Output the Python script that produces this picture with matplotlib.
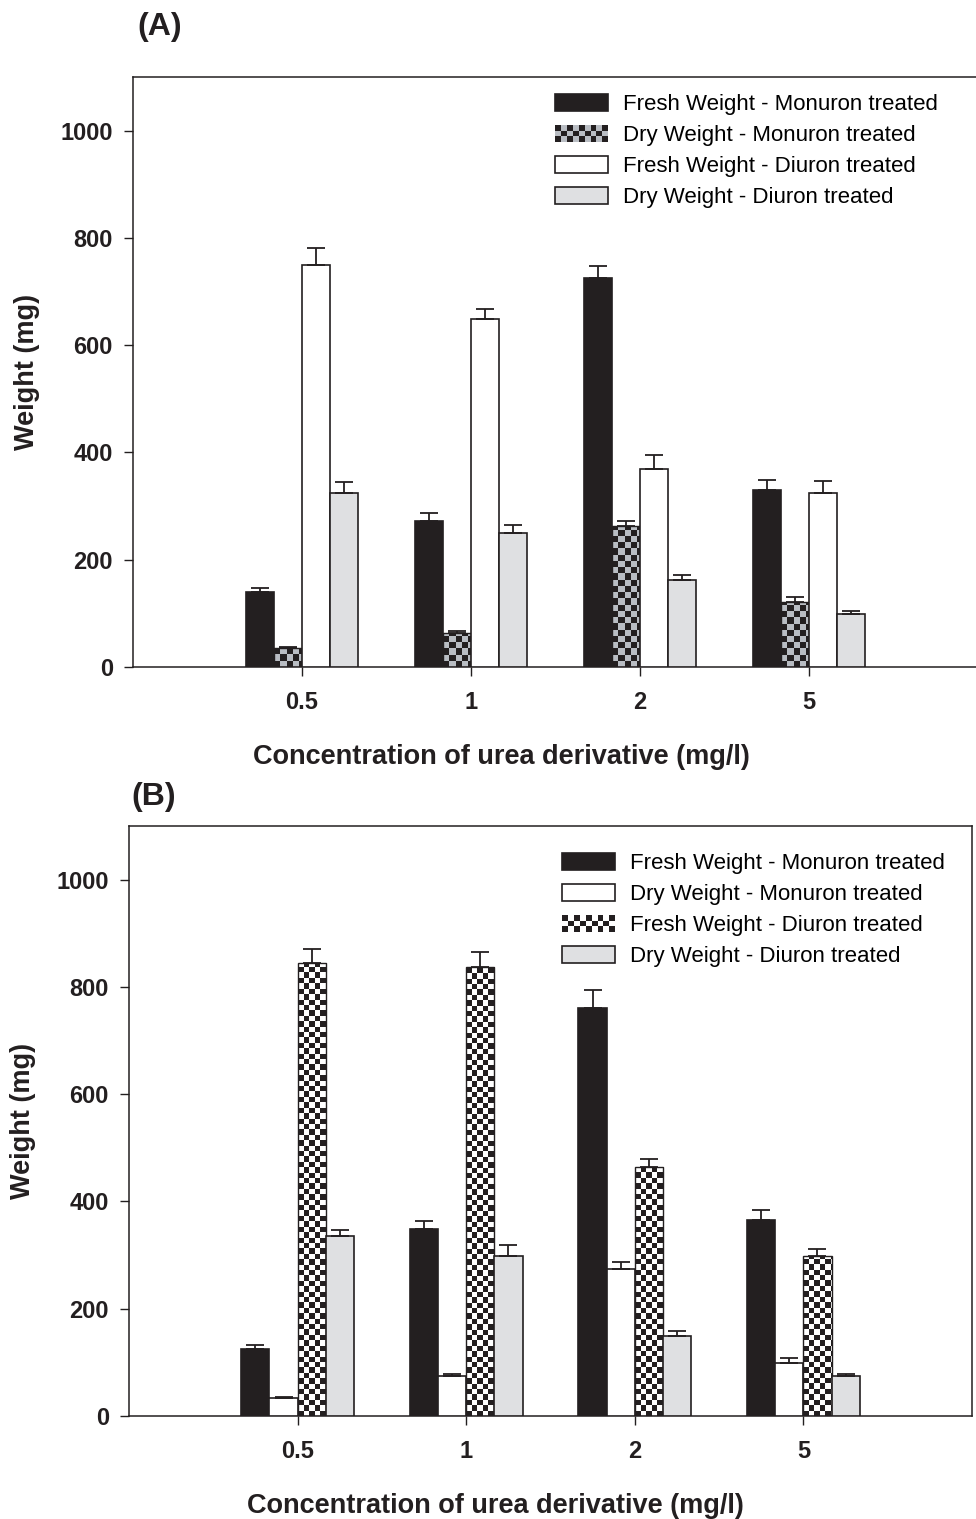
import numpy as np
import matplotlib
matplotlib.use("Agg")
import matplotlib.pyplot as plt
from matplotlib.patches import Patch, Rectangle
from matplotlib.colors import ListedColormap
from matplotlib.legend_handler import HandlerBase

plt.rcParams['font.family'] = ['Liberation Sans', 'DejaVu Sans']

# data (mg)
conc_labels = ['0.5', '1', '2', '5']
series_names_a = ['Fresh Weight - Monuron treated', 'Dry Weight - Monuron treated',
                  'Fresh Weight - Diuron treated', 'Dry Weight - Diuron treated']
series_names_b = ['Fresh Weight - Monuron treated', 'Dry Weight - Monuron treated',
                  'Fresh Weight - Diuron treated', 'Dry Weight - Diuron treated']

a_fresh_mon = [140, 273, 725, 330]
a_fresh_mon_err = [8, 15, 22, 18]
a_dry_mon = [35, 63, 263, 121]
a_dry_mon_err = [3, 4, 10, 10]
a_fresh_diu = [750, 649, 370, 325]
a_fresh_diu_err = [32, 19, 26, 21]
a_dry_diu = [325, 249, 162, 99]
a_dry_diu_err = [20, 16, 10, 5]

b_fresh_mon = [125, 349, 761, 366]
b_fresh_mon_err = [8, 15, 34, 18]
b_dry_mon = [33, 75, 275, 99]
b_dry_mon_err = [3, 3, 13, 10]
b_fresh_diu = [845, 837, 465, 299]
b_fresh_diu_err = [26, 29, 14, 13]
b_dry_diu = [336, 299, 149, 75]
b_dry_diu_err = [11, 19, 10, 3]

DARK = '#231f20'
LGRAY = '#dfe0e2'
CGRAY = '#b9bdc3'

W, H = 976, 1519
fig = plt.figure(figsize=(W / 100, H / 100), dpi=100)


class CheckerHandler(HandlerBase):
    def __init__(self, c1, c2, nx=9, ny=3):
        super().__init__()
        self.c1, self.c2, self.nx, self.ny = c1, c2, nx, ny

    def create_artists(self, legend, orig_handle, xdescent, ydescent,
                       width, height, fontsize, trans):
        arts = []
        sw = width / self.nx
        sh = height / self.ny
        for i in range(self.nx):
            for j in range(self.ny):
                c = self.c1 if (i + j) % 2 == 0 else self.c2
                arts.append(Rectangle((-xdescent + i * sw, -ydescent + j * sh), sw, sh,
                                      facecolor=c, edgecolor='none', transform=trans))
        return arts


def checker_bars(ax, xs, vals, w, c1, c2, sq_px, px_x, px_y):
    for x0, v in zip(xs, vals):
        bar = Rectangle((x0, 0), w, v, facecolor='none', edgecolor='none')
        ax.add_patch(bar)
        sx = sq_px / px_x
        sy = sq_px / px_y
        nx = int(np.ceil(w / sx)) + 1
        ny = int(np.ceil(v / sy)) + 1
        arr = np.indices((ny, nx)).sum(0) % 2
        im = ax.imshow(arr, cmap=ListedColormap([c1, c2]), origin='lower',
                       extent=[x0, x0 + nx * sx, 0, ny * sy],
                       interpolation='nearest', zorder=2, aspect='auto')
        im.set_clip_path(bar)


def panel(rect, title, title_xy, vals, errs, styles, names, leg_xy, sq_px, xlab_x):
    ax = fig.add_axes([rect[0] / W, 1 - rect[3] / H, (rect[2] - rect[0]) / W,
                       (rect[3] - rect[1]) / H])
    px_x = (rect[2] - rect[0]) / 5.0
    px_y = (rect[3] - rect[1]) / 1100.0
    x = np.arange(1, len(conc_labels) + 1)
    w = 0.167
    handles = []
    hmap = {}
    for k in range(4):
        xs = x + (k - 2) * w
        st = styles[k]
        if st in ('checkgray', 'checkbw'):
            c2 = CGRAY if st == 'checkgray' else 'white'
            checker_bars(ax, xs, vals[k], w, DARK, c2, sq_px, px_x, px_y)
            ax.bar(xs, vals[k], w, align='edge', facecolor='none',
                   edgecolor=DARK, linewidth=1.0, zorder=3)
            h = Patch(facecolor='none', edgecolor='none')
            hmap[h] = CheckerHandler(DARK, c2)
        else:
            fc = {'black': DARK, 'white': 'white', 'gray': LGRAY}[st]
            ax.bar(xs, vals[k], w, align='edge', facecolor=fc,
                   edgecolor=DARK, linewidth=1.2, zorder=3)
            h = Patch(facecolor=fc, edgecolor=DARK, linewidth=1.2)
        handles.append(h)
        ax.errorbar(xs + w / 2, vals[k], yerr=[np.zeros(4), errs[k]], fmt='none',
                    ecolor=DARK, elinewidth=1.3, capsize=6.5, capthick=1.3, zorder=4)

    ax.set_xlim(0, 5)
    ax.set_ylim(0, 1100)
    ax.set_xticks(x)
    ax.set_xticklabels(conc_labels, fontweight='bold')
    ax.set_yticks(np.arange(0, 1001, 200))
    ax.set_yticklabels([str(v) for v in range(0, 1001, 200)], fontweight='bold')
    ax.tick_params(axis='both', direction='out', length=6.5, width=1.0,
                   labelsize=17, color=DARK, labelcolor=DARK)
    ax.tick_params(axis='x', pad=11)
    ax.tick_params(axis='y', pad=8)
    for s in ax.spines.values():
        s.set_linewidth(1.1)
        s.set_color(DARK)
    ax.set_xlabel('Concentration of urea derivative (mg/l)', fontsize=19.5,
                  fontweight='bold', color=DARK)
    ax.xaxis.label.set_va('center')
    ax.xaxis.set_label_coords((xlab_x - rect[0]) / (rect[2] - rect[0]), -0.152)
    ax.set_ylabel('Weight (mg)', fontsize=19.5, fontweight='bold',
                  labelpad=15, color=DARK)
    ax.legend(handles, names, handler_map=hmap, loc='upper left',
              bbox_to_anchor=(leg_xy[0] / W, 1 - leg_xy[1] / H),
              bbox_transform=fig.transFigure, frameon=False, fontsize=16,
              handlelength=2.4, handleheight=0.77, handletextpad=0.68,
              labelspacing=0.45, borderpad=0, borderaxespad=0)
    fig.text(title_xy[0] / W, 1 - title_xy[1] / H, title, fontsize=23,
             fontweight='bold', ha='left', va='center', color=DARK)
    return ax


panel((133, 77, 978, 667), '(A)', (137, 27),
      [a_fresh_mon, a_dry_mon, a_fresh_diu, a_dry_diu],
      [a_fresh_mon_err, a_dry_mon_err, a_fresh_diu_err, a_dry_diu_err],
      ['black', 'checkgray', 'white', 'gray'], series_names_a, (555, 94), 6.2, 501)

panel((129, 826, 972, 1416), '(B)', (131, 797),
      [b_fresh_mon, b_dry_mon, b_fresh_diu, b_dry_diu],
      [b_fresh_mon_err, b_dry_mon_err, b_fresh_diu_err, b_dry_diu_err],
      ['black', 'white', 'checkbw', 'gray'], series_names_b, (562, 853), 5.4, 495)

fig.savefig('out.png', dpi=100)
